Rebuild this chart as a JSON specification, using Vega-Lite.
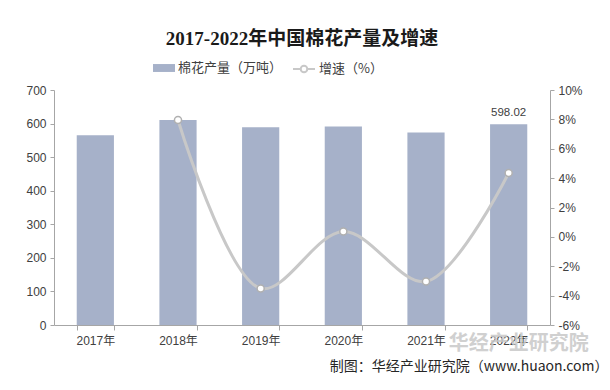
{
  "$schema": "https://vega.github.io/schema/vega-lite/v6.json",
  "width": 496,
  "height": 235,
  "autosize": {"type": "none"},
  "padding": {"left": 54, "top": 90, "right": 60, "bottom": 65},
  "background": "white",
  "data": {"values": [
    {"year": "2017年", "output": 565.3, "growth": null},
    {"year": "2018年", "output": 610.3, "growth": 7.96},
    {"year": "2019年", "output": 588.9, "growth": -3.51},
    {"year": "2020年", "output": 591.05, "growth": 0.36},
    {"year": "2021年", "output": 573.1, "growth": -3.04},
    {"year": "2022年", "output": 598.02, "growth": 4.35}
  ]},
  "title": {
    "text": "2017-2022年中国棉花产量及增速",
    "font": "Liberation Serif, Noto Sans CJK SC",
    "fontSize": 19,
    "fontWeight": "bold",
    "color": "#1a1a1a",
    "anchor": "middle",
    "offset": 8
  },
  "encoding": {
    "x": {
      "field": "year", "type": "nominal", "sort": null,
      "scale": {"paddingInner": 0.55, "paddingOuter": 0.275},
      "axis": {
        "labelAngle": 0,
        "tickBand": "extent",
        "tickSize": 5,
        "labelPadding": 5,
        "title": "制图：华经产业研究院（www.huaon.com）",
        "titleFont": "Noto Sans CJK SC",
        "titleFontSize": 14,
        "titleFontWeight": "normal",
        "titleColor": "#262626",
        "titleAnchor": "end",
        "titleAlign": "right",
        "titleBaseline": "middle",
        "titleX": 554,
        "titleY": 41
      }
    }
  },
  "layer": [
    {
      "encoding": {
        "y": {
          "field": "output", "type": "quantitative",
          "scale": {"domain": [0, 700], "nice": false},
          "axis": {"title": null, "values": [0, 100, 200, 300, 400, 500, 600, 700], "tickSize": 4, "labelPadding": 4}
        }
      },
      "layer": [
        {
          "mark": {"type": "bar"},
          "encoding": {
            "color": {
              "datum": "棉花产量（万吨）",
              "scale": {"range": ["#a6b1c9"]},
              "legend": {
                "orient": "none", "legendX": 99, "legendY": -33,
                "title": null,
                "symbolType": "M-1,-0.36L1,-0.36L1,0.36L-1,0.36Z",
                "symbolSize": 484,
                "symbolStrokeWidth": 0,
                "labelFont": "Noto Sans CJK SC",
                "labelFontSize": 13,
                "labelColor": "#404040",
                "labelOffset": 3
              }
            }
          }
        },
        {
          "transform": [{"filter": "datum.year === '2022年'"}],
          "mark": {"type": "text", "dy": -11, "fontSize": 11.5, "font": "Liberation Sans", "color": "#404040"},
          "encoding": {"text": {"field": "output", "type": "quantitative", "format": ".2f"}}
        },
        {
          "transform": [{"filter": "datum.year === '2022年'"}],
          "mark": {"type": "text", "text": "华经产业研究院", "dx": 10, "dy": 19, "fontSize": 20, "fontWeight": "bold", "font": "Noto Sans CJK SC", "color": "#c8c8c8", "opacity": 0.85},
          "encoding": {
            "y": {"datum": 0}
          }
        }
      ]
    },
    {
      "transform": [{"filter": "datum.growth !== null"}],
      "encoding": {
        "y": {
          "field": "growth", "type": "quantitative",
          "scale": {"domain": [-6, 10], "nice": false, "zero": false},
          "axis": {"orient": "right", "title": null, "values": [-6, -4, -2, 0, 2, 4, 6, 8, 10], "labelExpr": "datum.value + '%'", "tickSize": 4, "labelPadding": 4}
        }
      },
      "layer": [
        {
          "mark": {"type": "line", "interpolate": "catmull-rom", "strokeWidth": 3},
          "encoding": {
            "stroke": {
              "datum": "增速（%）",
              "scale": {"range": ["#c8c8c8"]},
              "legend": {
                "orient": "none", "legendX": 238, "legendY": -33,
                "title": null,
                "symbolType": "M-1,0L-0.3,0M0.3,0L1,0M0.3,0A0.3,0.3 0 1,1 -0.3,0A0.3,0.3 0 1,1 0.3,0Z",
                "symbolSize": 484,
                "symbolStrokeWidth": 2,
                "symbolFillColor": "white",
                "labelFont": "Noto Sans CJK SC",
                "labelFontSize": 13,
                "labelColor": "#404040",
                "labelOffset": 3
              }
            }
          }
        },
        {
          "mark": {"type": "point", "filled": true, "fill": "white", "stroke": "#b0b0b0", "strokeWidth": 1.5, "size": 50, "opacity": 1}
        }
      ]
    }
  ],
  "resolve": {"scale": {"y": "independent"}},
  "config": {
    "view": {"stroke": null},
    "axis": {
      "labelFont": "Liberation Sans, Noto Sans CJK SC",
      "labelFontSize": 12,
      "labelColor": "#404040",
      "grid": false,
      "domainColor": "#a6a6a6",
      "tickColor": "#a6a6a6"
    }
  }
}
